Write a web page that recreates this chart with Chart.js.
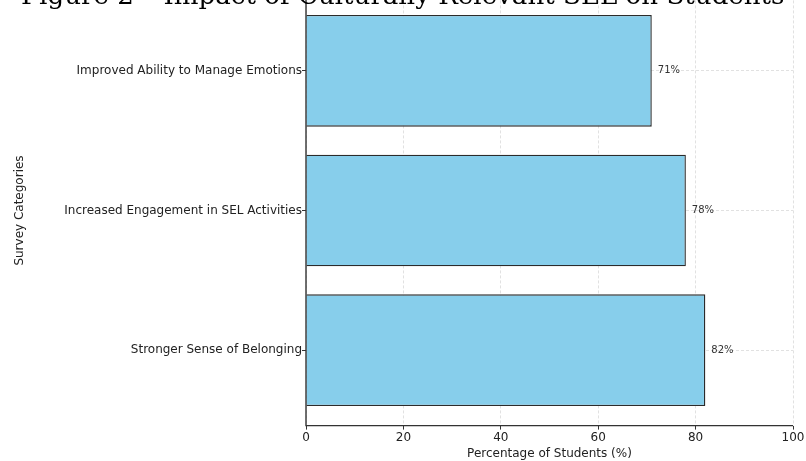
<!DOCTYPE html>
<html>
<head>
<meta charset="utf-8">
<script src="https://cdn.jsdelivr.net/npm/chart.js@4/dist/chart.umd.min.js"></script>
<style>
  html, body { margin: 0; padding: 0; width: 806px; height: 461px; overflow: hidden; background: #fff; position: relative; }
  #title { position: absolute; left: 21px; top: -16px; font-family: "DejaVu Serif", serif; font-size: 24px; line-height: 24px; color: #000; white-space: nowrap; }
  #wrap { position: absolute; left: 0; top: -20px; width: 830px; height: 481px; }
</style>
</head>
<body>
<div id="wrap"><canvas id="c"></canvas></div>
<div id="title">Figure 2 – Impact of Culturally Relevant SEL on Students</div>
<script>
const categories = ["Stronger Sense of Belonging", "Increased Engagement in SEL Activities", "Improved Ability to Manage Emotions"];
const values = [82, 78, 71];
const xTicks = [0, 20, 40, 60, 80, 100];

// fit title width to the reference (text spans ~764px, baseline ~4.5px)
(function () {
  const t = document.getElementById('title');
  const w = t.getBoundingClientRect().width;
  const size = 24 * 764 / w;
  t.style.fontSize = size + 'px';
  t.style.lineHeight = size + 'px';
  t.style.top = (4.5 - 0.846 * size) + 'px';
})();

const points = values.map((v, i) => ({ x: v, y: i }));

const valueLabels = {
  id: 'valueLabels',
  afterDatasetsDraw(chart) {
    const ctx = chart.ctx;
    const meta = chart.getDatasetMeta(0);
    const a = chart.chartArea;
    ctx.save();
    // spines (left and bottom)
    ctx.strokeStyle = '#333';
    ctx.lineWidth = 1.4;
    ctx.setLineDash([]);
    ctx.beginPath();
    ctx.moveTo(a.left, a.top);
    ctx.lineTo(a.left, a.bottom);
    ctx.lineTo(a.right, a.bottom);
    ctx.stroke();
    // value labels
    ctx.font = '10px "DejaVu Sans"';
    ctx.fillStyle = '#333';
    ctx.textAlign = 'left';
    ctx.textBaseline = 'middle';
    meta.data.forEach((bar, i) => {
      ctx.fillText(values[i] + '%', bar.x + 6, bar.y);
    });
    ctx.restore();
  }
};

const gridCfg = { color: '#d9d9d9', lineWidth: 0.8, tickLength: 4, tickColor: '#333', tickWidth: 1, offset: false };
const borderCfg = { display: false, dash: [3, 2] };

new Chart(document.getElementById('c'), {
  type: 'bar',
  data: {
    datasets: [{
      data: points,
      backgroundColor: '#87CEEB',
      borderColor: '#2b2b2b',
      borderWidth: 1.4,
      barPercentage: 0.8,
      categoryPercentage: 1.0
    }]
  },
  options: {
    indexAxis: 'y',
    responsive: true,
    maintainAspectRatio: false,
    animation: false,
    layout: { padding: { left: 0, right: 37, top: 15.4, bottom: 0 } },
    plugins: { legend: { display: false }, tooltip: { enabled: false } },
    scales: {
      x: {
        type: 'linear',
        min: 0, max: 100,
        offset: false,
        afterBuildTicks: (s) => { s.ticks = xTicks.map(v => ({ value: v })); },
        afterFit: (s) => { s.height = 35.4; },
        border: borderCfg,
        grid: gridCfg,
        ticks: { color: '#222', font: { family: 'DejaVu Sans', size: 12 }, padding: 1, maxRotation: 0 },
        title: { display: true, text: 'Percentage of Students (%)', color: '#222', font: { family: 'DejaVu Sans', size: 12 }, padding: { top: 0, bottom: 0 } }
      },
      y: {
        type: 'linear',
        min: -0.54, max: 2.54,
        offset: false,
        afterBuildTicks: (s) => { s.ticks = categories.map((c, i) => ({ value: i })); },
        afterFit: (s) => { s.width = 306; },
        border: borderCfg,
        grid: gridCfg,
        ticks: { color: '#222', font: { family: 'DejaVu Sans', size: 12 }, padding: 0, callback: (v) => categories[v] },
        title: { display: true, text: 'Survey Categories', color: '#222', font: { family: 'DejaVu Sans', size: 12 }, padding: { top: 13, bottom: 0 } }
      }
    }
  },
  plugins: [valueLabels]
});
</script>
</body>
</html>
